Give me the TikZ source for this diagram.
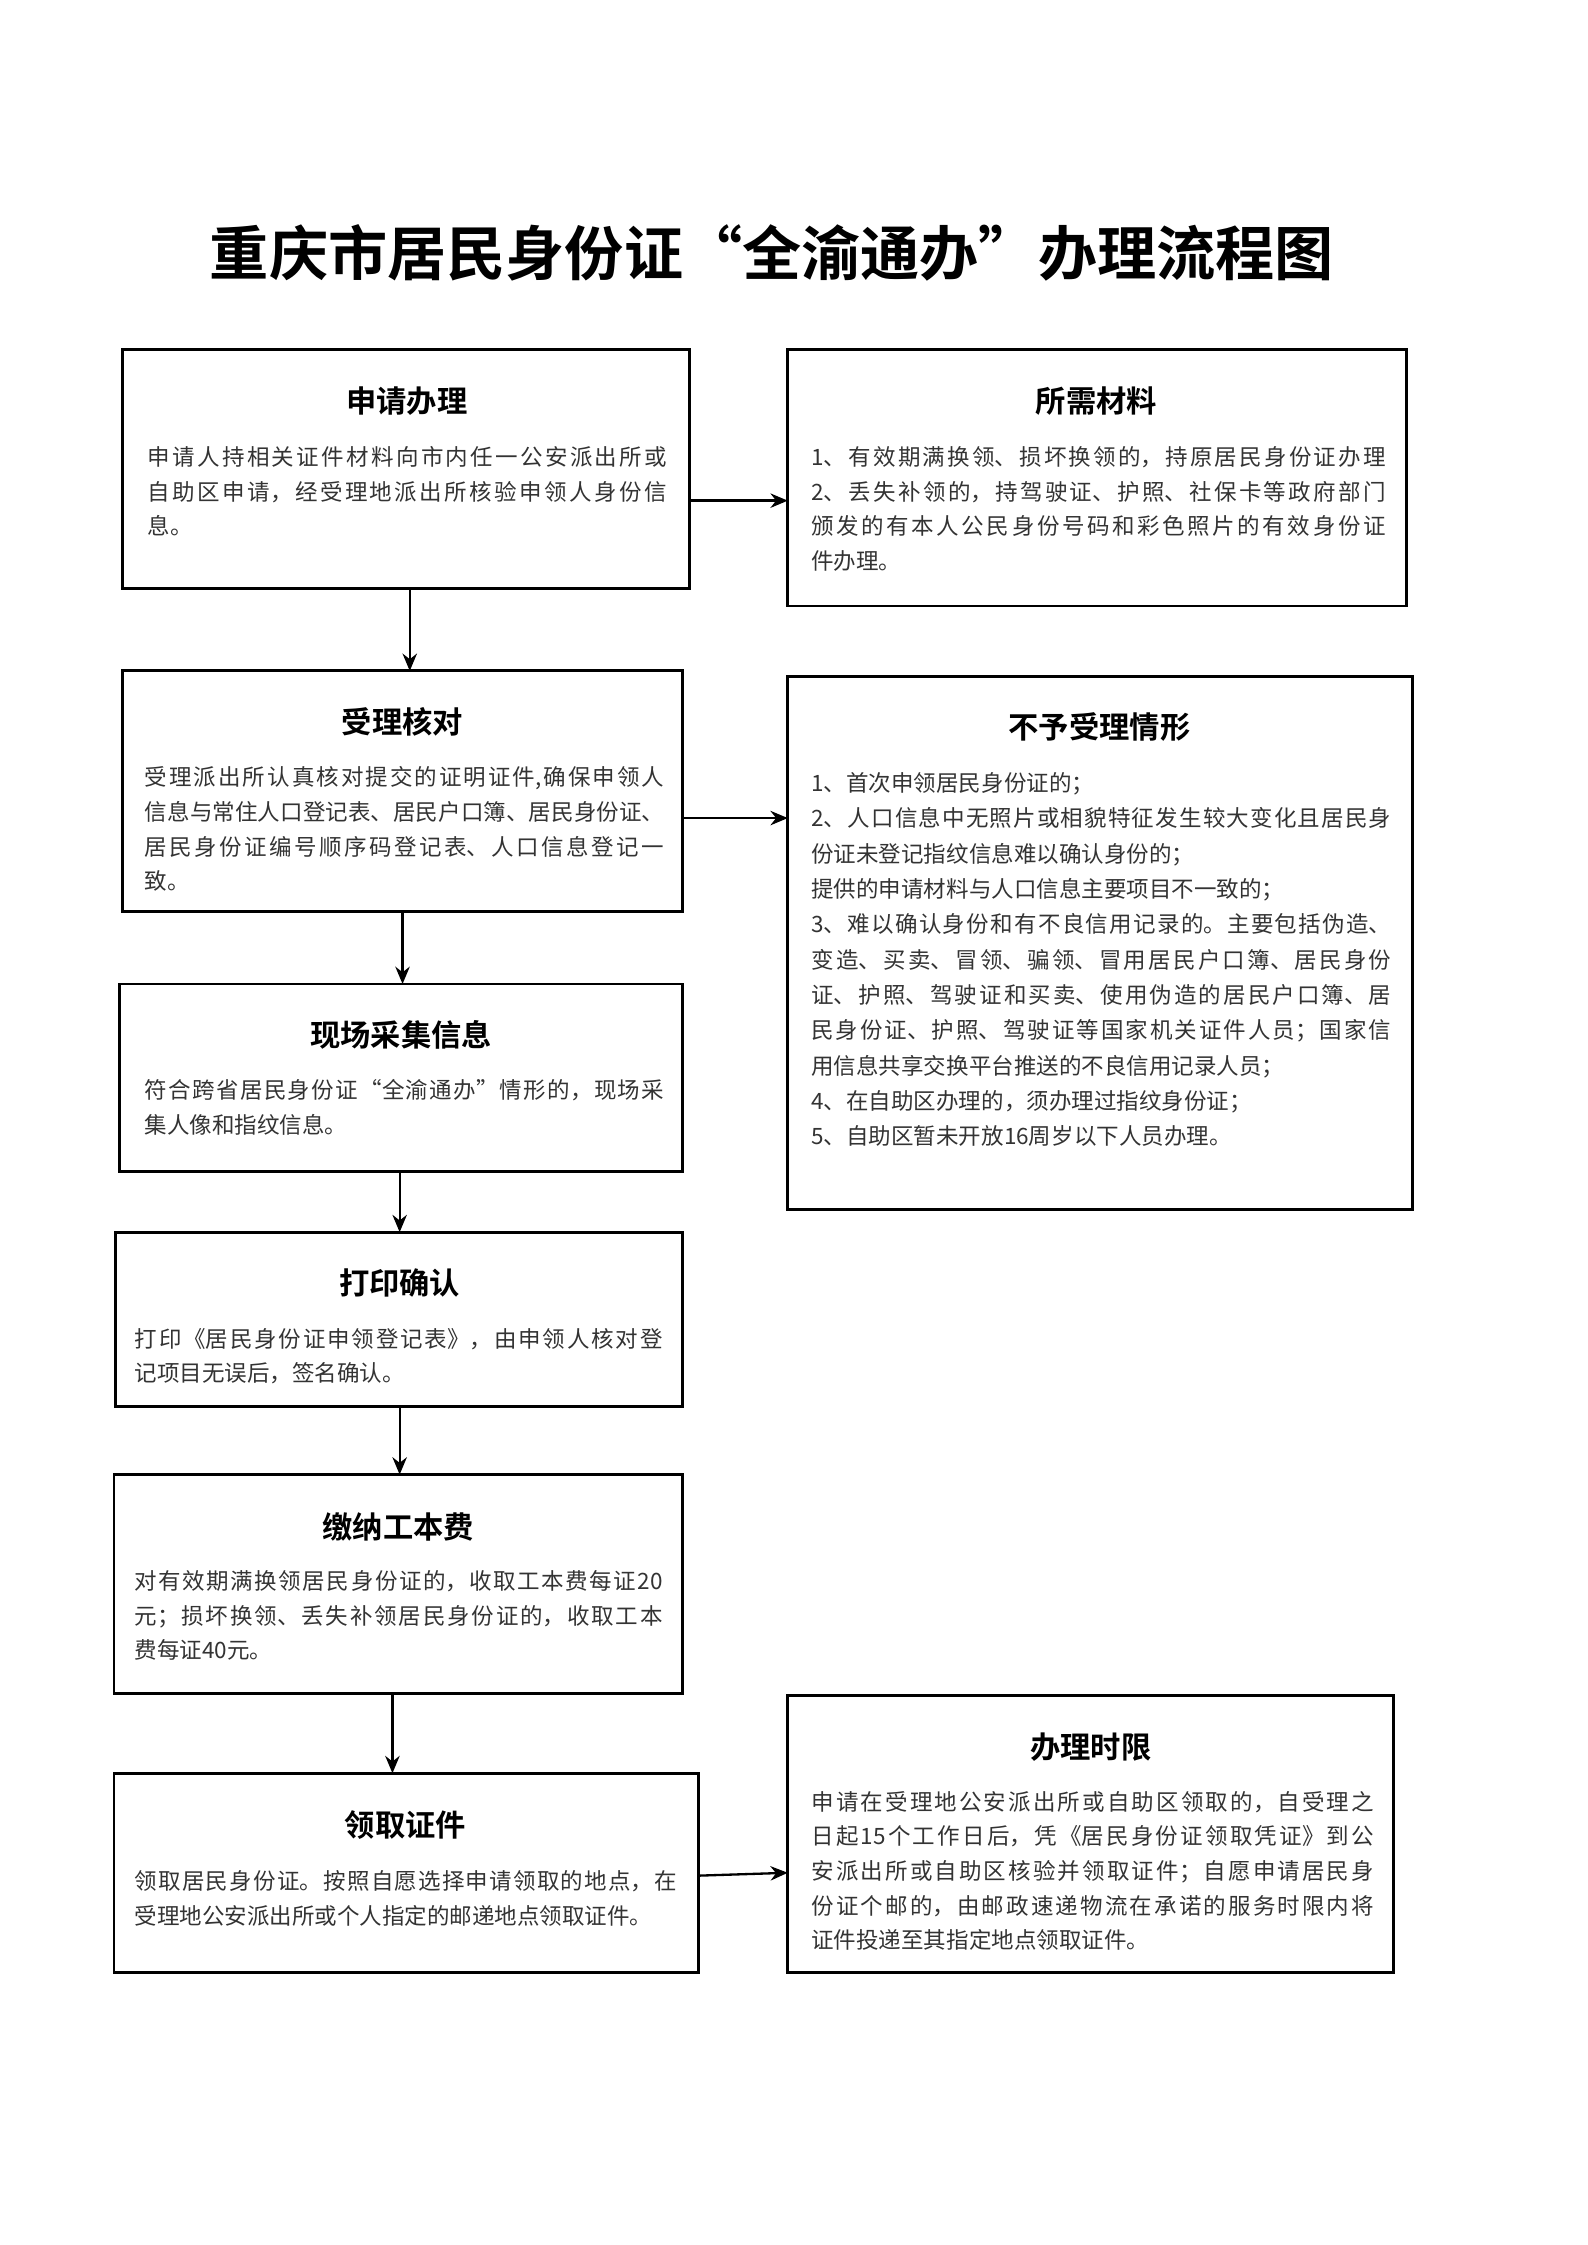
\documentclass[tikz,border=0pt]{standalone}
\usepackage{fontspec}
\setmainfont[BoldFont={Noto Sans CJK SC Bold}]{Noto Sans CJK SC}
\XeTeXlinebreaklocale "zh"
\XeTeXlinebreakskip=0pt plus 6pt
\usetikzlibrary{arrows.meta}
\tikzset{
 box/.style={draw,line width=1pt},
 hd/.style={font=\fontsize{10.5}{12}\selectfont\bfseries,inner sep=0pt},
 bd/.style={font=\fontsize{7.8}{12}\selectfont,inner sep=0pt,anchor=north west,align=justify,text=black!80},
 ar/.style={-{Stealth[length=6pt,width=5pt]},line width=0.8pt}
}
\begin{document}
\begin{tikzpicture}[x=0.5pt,y=-0.5pt]
\useasboundingbox (0,0) rectangle (1100,1556);
\node[font=\fontsize{20.5}{22}\selectfont\bfseries] (t) at (535,175) {重庆市居民身份证“全渝通办”办理流程图};
% boxes
\draw[box] (85,242) rectangle (478,408) coordinate (b1);
\draw[box] (546,242) rectangle (975,420);
\draw[box] (85,465) rectangle (473,632);
\draw[box] (546,469) rectangle (979,838);
\draw[box] (83,682) rectangle (473,812);
\draw[box] (80,854) rectangle (473,975);
\draw[box] (79,1022) rectangle (473,1174);
\draw[box] (79,1229) rectangle (484,1367);
\draw[box] (546,1175) rectangle (966,1367);
\coordinate (p1r) at (478,347); \coordinate (p2l) at (546,347);
\coordinate (p1b) at (284,408); \coordinate (p3t) at (284,465);
\coordinate (p3r) at (473,567); \coordinate (p4l) at (546,567);
\coordinate (p3b) at (279,632); \coordinate (p5t) at (279,682);
\coordinate (p5b) at (277,812); \coordinate (p6t) at (277,854);
\coordinate (p6b) at (277,975); \coordinate (p7t) at (277,1022);
\coordinate (p7b) at (272,1174); \coordinate (p8t) at (272,1229);
\coordinate (p8r) at (484,1300); \coordinate (p9l) at (546,1298);
\draw[ar] (p1r)--(p2l); \draw[ar] (p1b)--(p3t); \draw[ar] (p3r)--(p4l);
\draw[ar] (p3b)--(p5t); \draw[ar] (p5b)--(p6t); \draw[ar] (p6b)--(p7t);
\draw[ar] (p7b)--(p8t); \draw[ar] (p8r)--(p9l);
% headings
\node[hd] (h1) at (282,278) {申请办理};
\node[hd] (h2) at (760,278) {所需材料};
\node[hd] (h3) at (279,500) {受理核对};
\node[hd] (h4) at (762,504) {不予受理情形};
\node[hd] (h5) at (278,717) {现场采集信息};
\node[hd] (h6) at (277,889) {打印确认};
\node[hd] (h7) at (276,1058) {缴纳工本费};
\node[hd] (h8) at (281,1265) {领取证件};
\node[hd] (h9) at (756,1211) {办理时限};
% bodies
\node[bd,text width=180pt] (t1) at (102,309) {申请人持相关证件材料向市内任一公安派出所或\linebreak 自助区申请，经受理地派出所核验申领人身份信\linebreak 息。};
\node[bd,text width=199pt] (t2) at (562,309) {1、有效期满换领、损坏换领的，持原居民身份证办理\linebreak 2、丢失补领的，持驾驶证、护照、社保卡等政府部门\linebreak 颁发的有本人公民身份号码和彩色照片的有效身份证\linebreak 件办理。};
\node[bd,text width=180pt] (t3) at (100,531) {受理派出所认真核对提交的证明证件,确保申领人\linebreak 信息与常住人口登记表、居民户口簿、居民身份证、\linebreak 居民身份证编号顺序码登记表、人口信息登记一\linebreak 致。};
\node[bd,text width=201pt,font=\fontsize{7.8}{12.25}\selectfont] (t4) at (562,535) {1、首次申领居民身份证的；\\ 2、人口信息中无照片或相貌特征发生较大变化且居民身\linebreak 份证未登记指纹信息难以确认身份的；\\ 提供的申请材料与人口信息主要项目不一致的；\\ 3、难以确认身份和有不良信用记录的。主要包括伪造、\linebreak 变造、买卖、冒领、骗领、冒用居民户口簿、居民身份\linebreak 证、护照、驾驶证和买卖、使用伪造的居民户口簿、居\linebreak 民身份证、护照、驾驶证等国家机关证件人员；国家信\linebreak 用信息共享交换平台推送的不良信用记录人员；\\ 4、在自助区办理的，须办理过指纹身份证；\\ 5、自助区暂未开放16周岁以下人员办理。};
\node[bd,text width=180pt] (t5) at (100,748) {符合跨省居民身份证“全渝通办”情形的，现场采\linebreak 集人像和指纹信息。};
\node[bd,text width=183pt] (t6) at (93,920) {打印《居民身份证申领登记表》，由申领人核对登\linebreak 记项目无误后，签名确认。};
\node[bd,text width=183pt] (t7) at (93,1088) {对有效期满换领居民身份证的，收取工本费每证20\linebreak 元；损坏换领、丢失补领居民身份证的，收取工本\linebreak 费每证40元。};
\node[bd,text width=188pt] (t8) at (93,1296) {领取居民身份证。按照自愿选择申请领取的地点，在\linebreak 受理地公安派出所或个人指定的邮递地点领取证件。};
\node[bd,text width=195pt] (t9) at (562,1241) {申请在受理地公安派出所或自助区领取的，自受理之\linebreak 日起15个工作日后，凭《居民身份证领取凭证》到公\linebreak 安派出所或自助区核验并领取证件；自愿申请居民身\linebreak 份证个邮的，由邮政速递物流在承诺的服务时限内将\linebreak 证件投递至其指定地点领取证件。};
\end{tikzpicture}
\end{document}
